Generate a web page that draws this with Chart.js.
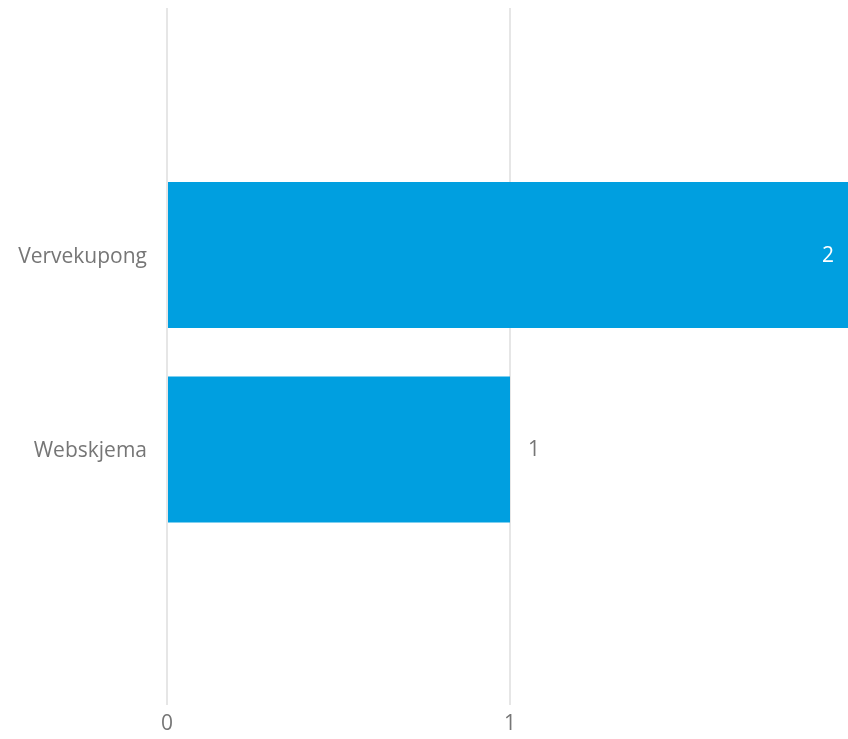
<!DOCTYPE html>
<html>
<head>
<meta charset="utf-8">
<script src="https://cdn.jsdelivr.net/npm/chart.js@4.4.0/dist/chart.umd.min.js"></script>
<style>
  html, body { margin: 0; padding: 0; overflow: hidden; background: #fff; }
  #wrap { width: 860px; height: 739px; }
</style>
</head>
<body>
<div id="wrap"><canvas id="barChart" width="860" height="739"></canvas></div>
<script>
// chart data
const categories = ['Vervekupong', 'Webskjema'];
const counts = [2, 1];
const xTicks = [0, 1, 2];

const barColor = '#009fe0';
const textColor = '#767676';
const fontFamily = '"Open Sans", "Noto Sans", sans-serif';

// draws the value next to / inside the end of each bar
const valueLabels = {
  id: 'valueLabels',
  afterDatasetsDraw(chart) {
    const { ctx } = chart;
    const meta = chart.getDatasetMeta(0);
    ctx.save();
    ctx.font = '21px ' + fontFamily;
    ctx.textBaseline = 'middle';
    meta.data.forEach((bar, i) => {
      const value = counts[i];
      const inside = value === Math.max(...counts);
      if (inside) {
        ctx.fillStyle = '#ffffff';
        ctx.textAlign = 'right';
        ctx.fillText(String(value), bar.x - 19, bar.y + 1);
      } else {
        ctx.fillStyle = textColor;
        ctx.textAlign = 'left';
        ctx.fillText(String(value), bar.x + 18, bar.y + 1);
      }
    });
    ctx.restore();
  }
};

new Chart(document.getElementById('barChart'), {
  type: 'bar',
  data: {
    datasets: [{
      data: categories.map((c, i) => ({ y: i, x: counts[i] })),
      backgroundColor: barColor,
      categoryPercentage: 1,
      barPercentage: 0.75,
    }],
  },
  options: {
    indexAxis: 'y',
    responsive: false,
    animation: false,
    layout: { padding: { top: 8, right: 7, left: 0, bottom: 0 } },
    plugins: {
      legend: { display: false },
      tooltip: { enabled: false },
    },
    scales: {
      x: {
        type: 'linear',
        min: xTicks[0],
        max: xTicks[xTicks.length - 1],
        afterBuildTicks: (scale) => { scale.ticks = xTicks.map(v => ({ value: v })); },
        afterFit: (scale) => {
          scale.height = 34;
          scale.paddingLeft = 0;
          scale.paddingRight = 0;
        },
        grid: { color: '#e6e6e6', lineWidth: 2, drawTicks: false },
        border: { display: false },
        ticks: {
          color: textColor,
          font: { family: fontFamily, size: 21 },
          padding: 6,
        },
      },
      y: {
        type: 'linear',
        reverse: true,
        offset: false,
        min: -1.27,
        max: 2.314,
        afterBuildTicks: (scale) => { scale.ticks = categories.map((c, i) => ({ value: i })); },
        afterFit: (scale) => {
          scale.width = 167;
          scale.paddingTop = 0;
          scale.paddingBottom = 0;
        },
        grid: { display: false, drawTicks: false, offset: false },
        border: { display: false },
        ticks: {
          color: textColor,
          font: { family: fontFamily, size: 21 },
          padding: 20,
          labelOffset: 2,
          callback: (value) => categories[value] ?? '',
        },
      },
    },
  },
  plugins: [valueLabels],
});
</script>
</body>
</html>
